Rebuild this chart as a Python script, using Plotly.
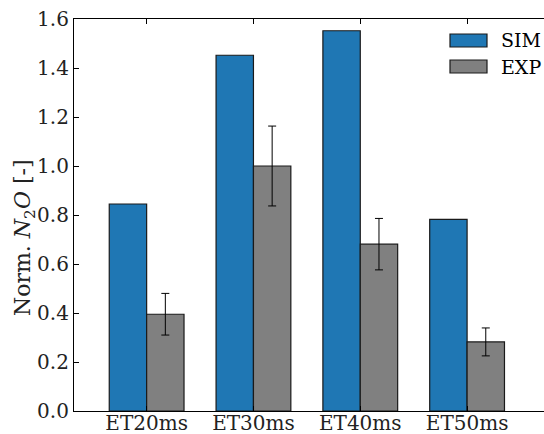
import plotly.graph_objects as go

categories = ["ET20ms", "ET30ms", "ET40ms", "ET50ms"]
sim_values = [0.845, 1.452, 1.552, 0.782]
exp_values = [0.395, 1.0, 0.681, 0.282]
exp_errors = [0.085, 0.163, 0.105, 0.057]
y_ticks = [0.0, 0.2, 0.4, 0.6, 0.8, 1.0, 1.2, 1.4, 1.6]

FONT = "DejaVu Serif"
SIM_C = "#1f77b4"
EXP_C = "#808080"

L, T, W, H = 74, 19, 470, 392


def px(x):
    return (x - L) / W


def py(y):
    return 1 - (y - T) / H


fig = go.Figure()
fig.add_trace(go.Bar(
    x=categories, y=sim_values, name="SIM",
    marker=dict(color=SIM_C, line=dict(color="#1a1a1a", width=1.2)),
    showlegend=False,
))
fig.add_trace(go.Bar(
    x=categories, y=exp_values, name="EXP",
    marker=dict(color=EXP_C, line=dict(color="#1a1a1a", width=1.2)),
    error_y=dict(type="data", array=exp_errors, color="black", thickness=1, width=4),
    showlegend=False,
))

# manual legend (matplotlib-like patches)
legend_items = [("SIM", SIM_C), ("EXP", EXP_C)]
for i, (lab, col) in enumerate(legend_items):
    y0 = 34 + i * 26
    fig.add_shape(type="rect", xref="paper", yref="paper",
                  x0=px(450), x1=px(487), y0=py(y0 + 13), y1=py(y0),
                  fillcolor=col, line=dict(color="#1a1a1a", width=1.2))
    fig.add_annotation(xref="paper", yref="paper", x=px(499), y=py(y0 + 6.5),
                       text=lab, showarrow=False, xanchor="left", yanchor="middle",
                       font=dict(family=FONT, size=19, color="black"))

# y-axis title
fig.add_annotation(xref="paper", yref="paper", x=px(24), y=py(238),
                   text="Norm. <i>N</i><sub>2</sub><i>O</i> [-]", textangle=-90,
                   showarrow=False, xanchor="center", yanchor="middle",
                   font=dict(family=FONT, size=22, color="#222"))

fig.update_layout(
    width=544, height=434,
    margin=dict(l=L, r=0, t=T, b=434 - T - H),
    paper_bgcolor="white", plot_bgcolor="white",
    barmode="group", bargap=0.3, bargroupgap=0,
    font=dict(family=FONT, size=20, color="black"),
)
fig.update_xaxes(
    range=[-0.68, 3.72], showline=True, linecolor="black", linewidth=1.2,
    mirror="ticks", ticks="inside", ticklen=5, tickcolor="black",
    showgrid=False, automargin=False, ticklabelstandoff=-6,
    tickfont=dict(family=FONT, size=20, color="#222"),
)
fig.update_yaxes(
    range=[0, 1.6], tickvals=y_ticks, tickformat=".1f",
    showline=True, linecolor="black", linewidth=1.2, mirror=False,
    ticks="inside", ticklen=5, tickcolor="black", showgrid=False, zeroline=False,
    automargin=False,
    tickfont=dict(family=FONT, size=20, color="#222"),
)

fig.write_html("out.html", config={"displayModeBar": False},
               post_script="document.body.style.margin='0';document.body.style.overflow='hidden';")
